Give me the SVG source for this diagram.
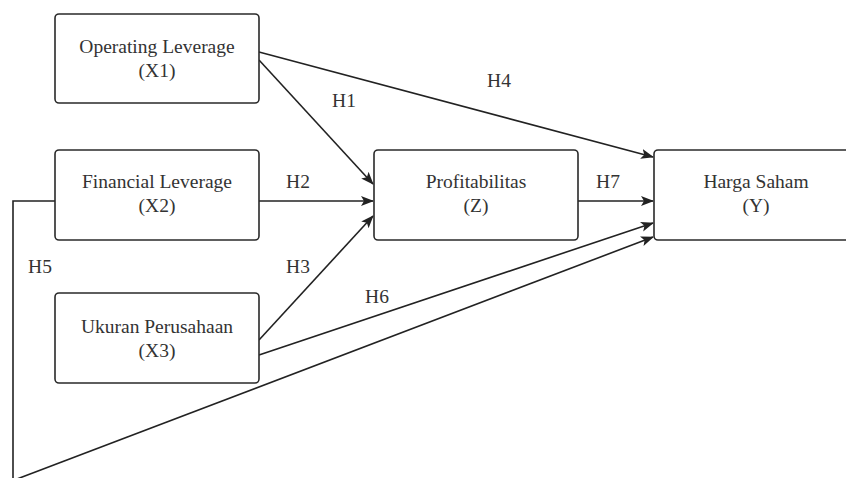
<svg xmlns="http://www.w3.org/2000/svg" width="846" height="478" viewBox="0 0 846 478">
<style>
.box{fill:#fff;stroke:#2a2a2a;stroke-width:1.6}
.t{font-family:"Liberation Serif","Times New Roman",serif;font-size:19.5px;fill:#333;text-anchor:middle}
.c{fill:none;stroke:#222;stroke-width:1.6}
</style>
<defs>
<marker id="ah" markerUnits="userSpaceOnUse" markerWidth="14" markerHeight="12" refX="12" refY="5" orient="auto">
<path d="M0,0 L13,5 L0,10 L3,5 z" fill="#222"/>
</marker>
</defs>
<rect width="846" height="478" fill="#fff"/>
<g id="connectors">
<line class="c" x1="259" y1="60" x2="373" y2="184" marker-end="url(#ah)"/>
<line class="c" x1="259" y1="52" x2="653" y2="157" marker-end="url(#ah)"/>
<line class="c" x1="259" y1="201" x2="373" y2="201" marker-end="url(#ah)"/>
<line class="c" x1="259" y1="340" x2="373" y2="216" marker-end="url(#ah)"/>
<line class="c" x1="578" y1="201" x2="653" y2="201" marker-end="url(#ah)"/>
<line class="c" x1="259" y1="355" x2="653" y2="223" marker-end="url(#ah)"/>
<polyline class="c" points="55,201 13,201 13,482"/>
<line class="c" x1="13" y1="480.5" x2="653" y2="237" marker-end="url(#ah)"/>
<g class="t">
<text x="344" y="107">H1</text>
<text x="298" y="188">H2</text>
<text x="298" y="273">H3</text>
<text x="499" y="87">H4</text>
<text x="40" y="273">H5</text>
<text x="377" y="303">H6</text>
<text x="608" y="188">H7</text>
</g>
</g>
<g id="x1">
<rect class="box" x="55" y="14" width="204" height="89" rx="4"/>
<text class="t" x="157" y="53">Operating Leverage</text>
<text class="t" x="157" y="77">(X1)</text>
</g>
<g id="x2">
<rect class="box" x="55" y="150" width="204" height="90" rx="4"/>
<text class="t" x="157" y="188">Financial Leverage</text>
<text class="t" x="157" y="212">(X2)</text>
</g>
<g id="x3">
<rect class="box" x="55" y="293" width="204" height="90" rx="4"/>
<text class="t" x="157" y="333">Ukuran Perusahaan</text>
<text class="t" x="157" y="357">(X3)</text>
</g>
<g id="z">
<rect class="box" x="374" y="150" width="204" height="90" rx="4"/>
<text class="t" x="476" y="188">Profitabilitas</text>
<text class="t" x="476" y="212">(Z)</text>
</g>
<g id="y">
<rect class="box" x="654" y="150" width="205" height="90" rx="4"/>
<text class="t" x="756" y="188">Harga Saham</text>
<text class="t" x="756" y="212">(Y)</text>
</g>
</svg>
